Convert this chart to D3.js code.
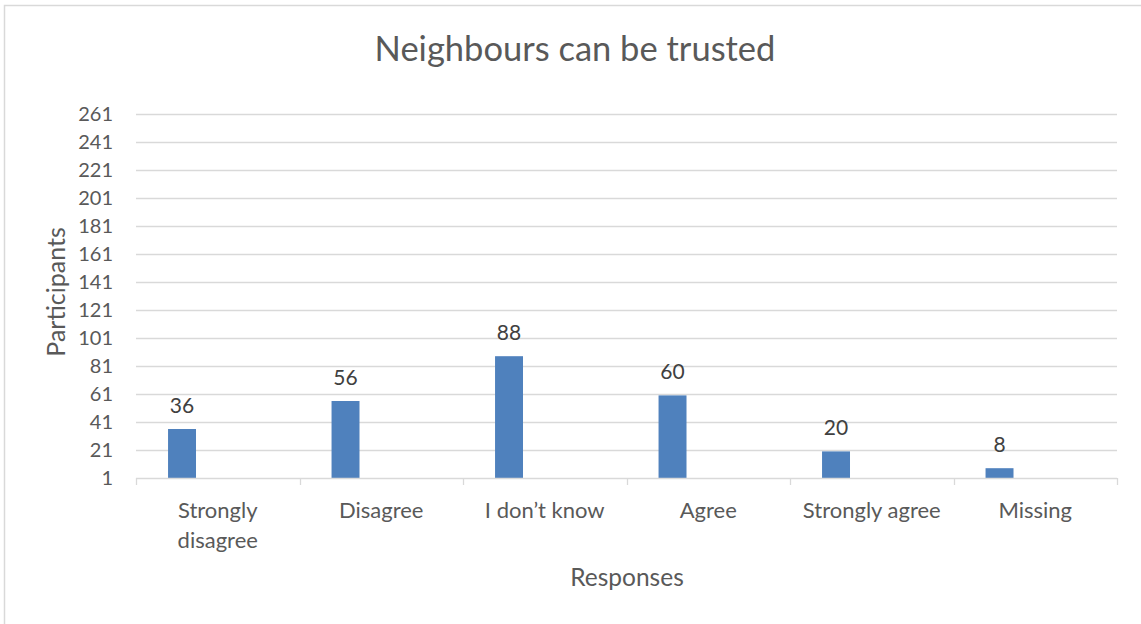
<!DOCTYPE html>
<html><head><meta charset="utf-8">
<script src="https://cdn.jsdelivr.net/npm/d3@7"></script>
<style>body{margin:0;background:#fff;} svg{display:block;}</style>
</head><body>
<script>
const categories = [["Strongly","disagree"],["Disagree"],["I don\u2019t know"],["Agree"],["Strongly agree"],["Missing"]];
const values = [36, 56, 88, 60, 20, 8];
const yTicks = [1,21,41,61,81,101,121,141,161,181,201,221,241,261];
const title = "Neighbours can be trusted";
const xTitle = "Responses";
const yTitle = "Participants";

(function(){
const W = 1141, H = 624;
const font = "Lato, 'Open Sans', sans-serif";
const svg = d3.select("body").append("svg").attr("width", W).attr("height", H);
svg.append("rect").attr("x",4.5).attr("y",5.5).attr("width",1150).attr("height",640)
  .attr("fill","#fff").attr("stroke","#d9d9d9").attr("stroke-width",1.5);

const pL = 136, pR = 1117, pT = 114, pB = 478;
const x = d3.scaleBand().domain(d3.range(categories.length)).range([pL, pR]);
const y = d3.scaleLinear().domain([1, 261]).range([pB, pT]);

svg.append("g").selectAll("line").data(yTicks.slice(1)).join("line")
  .attr("x1", pL).attr("x2", pR)
  .attr("y1", d => Math.round(y(d)) + 0.5).attr("y2", d => Math.round(y(d)) + 0.5)
  .attr("stroke", "#d9d9d9").attr("stroke-width", 1.3);

svg.append("g").selectAll("text").data(yTicks).join("text")
  .attr("x", 113).attr("y", d => y(d)).attr("dy", "0.36em")
  .attr("text-anchor", "end").attr("font-family", font).attr("font-size", 20)
  .attr("fill", "#595959").text(d => d);

const bw = x.bandwidth();
svg.append("g").selectAll("rect").data(values).join("rect")
  .attr("x", (d,i) => x(i) + bw * 0.196).attr("width", bw * 0.171)
  .attr("y", d => y(d)).attr("height", d => y(1) - y(d))
  .attr("fill", "#4f81bd");

svg.append("g").selectAll("text").data(values).join("text")
  .attr("x", (d,i) => x(i) + bw * (0.196 + 0.0855)).attr("y", d => y(d) - 16)
  .attr("text-anchor", "middle").attr("font-family", font).attr("font-size", 21)
  .attr("fill", "#404040").text(d => d);

const xa = svg.append("g");
xa.append("line").attr("x1", pL).attr("x2", pR).attr("y1", pB + 0.5).attr("y2", pB + 0.5)
  .attr("stroke", "#d9d9d9").attr("stroke-width", 1.3);
const tickPos = d3.range(categories.length + 1).map(i => i < categories.length ? x(i) : pR);
xa.selectAll("line.t").data(tickPos).join("line").attr("class","t")
  .attr("x1", d => Math.round(d) + 0.5).attr("x2", d => Math.round(d) + 0.5)
  .attr("y1", pB).attr("y2", pB + 7).attr("stroke", "#d9d9d9").attr("stroke-width", 1.3);
categories.forEach((lines, i) => {
  const t = xa.append("text").attr("text-anchor", "middle").attr("font-family", font)
    .attr("font-size", 22).attr("fill", "#595959");
  lines.forEach((ln, j) => t.append("tspan").attr("x", x(i) + bw/2).attr("y", 518 + j * 30).text(ln));
});

svg.append("text").attr("x", 575).attr("y", 61).attr("text-anchor", "middle")
  .attr("font-family", font).attr("font-size", 34.5).attr("fill", "#595959").text(title);
svg.append("text").attr("x", 627).attr("y", 586).attr("text-anchor", "middle")
  .attr("font-family", font).attr("font-size", 24.5).attr("fill", "#595959").text(xTitle);
svg.append("text").attr("transform", "translate(65,292) rotate(-90)").attr("text-anchor", "middle")
  .attr("font-family", font).attr("font-size", 25).attr("fill", "#595959").text(yTitle);
})();
</script>
</body></html>
